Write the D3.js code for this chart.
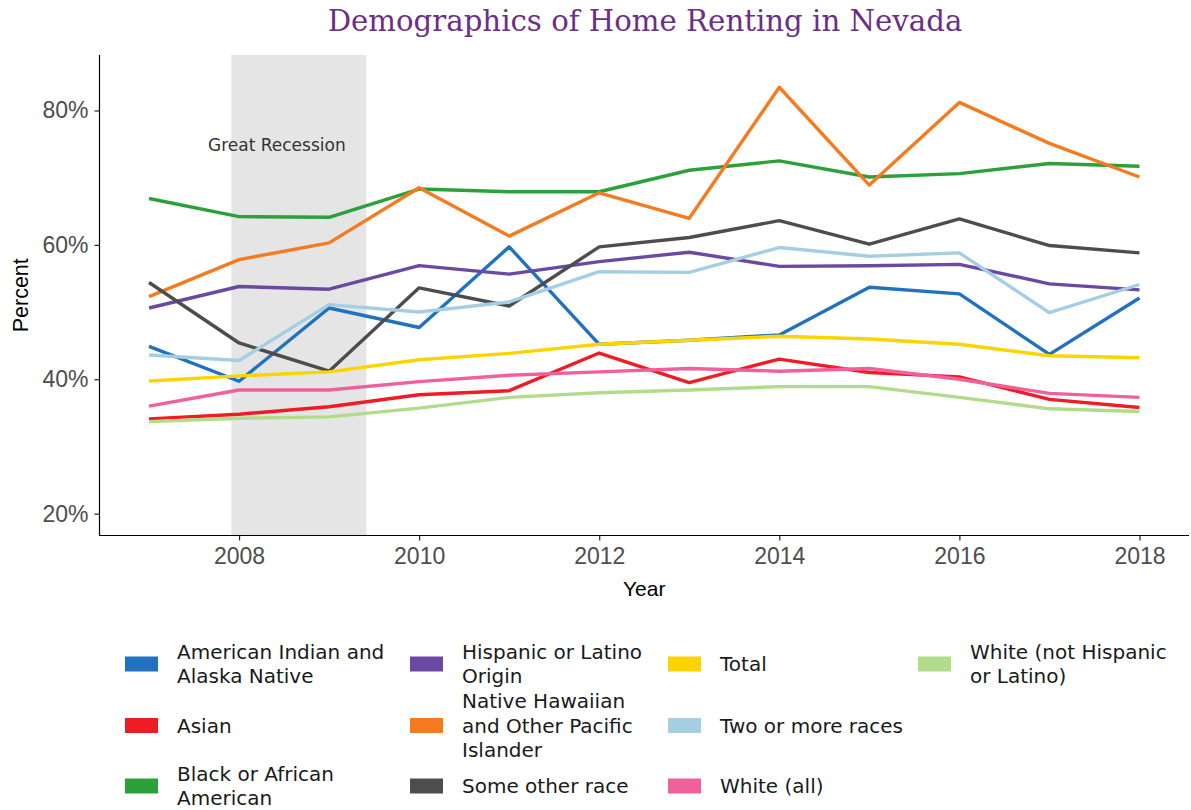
<!DOCTYPE html>
<html><head><meta charset="utf-8">
<script src="https://cdn.jsdelivr.net/npm/d3@7"></script>
<style>body{margin:0;background:#fff} svg{display:block}</style>
</head><body><svg id="chart" width="1191" height="810"></svg>
<script>
// ---------- DATA ----------
const years = [2007, 2008, 2009, 2010, 2011, 2012, 2013, 2014, 2015, 2016, 2017, 2018];
const categories = [
  "American Indian and Alaska Native", "Asian", "Black or African American",
  "Hispanic or Latino Origin", "Native Hawaiian and Other Pacific Islander", "Some other race",
  "Total", "Two or more races", "White (all)", "White (not Hispanic or Latino)"
];
const legendLabels = [
  ["American Indian and", "Alaska Native"], ["Asian"], ["Black or African", "American"],
  ["Hispanic or Latino", "Origin"], ["Native Hawaiian", "and Other Pacific", "Islander"], ["Some other race"],
  ["Total"], ["Two or more races"], ["White (all)"], ["White (not Hispanic", "or Latino)"]
];
const americanIndian   = [44.9, 39.7, 50.6, 47.7, 59.7, 45.2, 45.8, 46.6, 53.7, 52.7, 43.7, 52.1];
const asian            = [34.1, 34.8, 35.9, 37.7, 38.3, 43.9, 39.5, 43.0, 41.0, 40.35, 37.0, 35.8];
const black            = [66.9, 64.2, 64.1, 68.3, 67.9, 67.9, 71.1, 72.5, 70.1, 70.6, 72.1, 71.7];
const hispanic         = [50.6, 53.8, 53.4, 56.9, 55.65, 57.5, 58.9, 56.8, 56.9, 57.1, 54.2, 53.3];
const nativeHawaiian   = [52.3, 57.8, 60.3, 68.5, 61.3, 67.75, 63.95, 83.45, 68.9, 81.2, 75.1, 70.1];
const someOtherRace    = [54.4, 45.4, 41.2, 53.6, 50.9, 59.7, 61.1, 63.6, 60.1, 63.85, 59.9, 58.8];
const total            = [39.75, 40.5, 41.1, 42.9, 43.85, 45.2, 45.8, 46.4, 46.0, 45.2, 43.5, 43.2];
const twoOrMore        = [43.6, 42.8, 51.1, 50.0, 51.5, 56.0, 55.9, 59.6, 58.3, 58.8, 49.9, 54.1];
const whiteAll         = [36.0, 38.4, 38.4, 39.65, 40.6, 41.1, 41.6, 41.2, 41.6, 40.0, 37.9, 37.3];
const whiteNotHispanic = [33.7, 34.2, 34.4, 35.7, 37.3, 38.0, 38.4, 38.9, 38.9, 37.3, 35.6, 35.2];
const seriesValues = [americanIndian, asian, black, hispanic, nativeHawaiian, someOtherRace,
                      total, twoOrMore, whiteAll, whiteNotHispanic];
const yTickValues = [20, 40, 60, 80];
const xTickValues = [2008, 2010, 2012, 2014, 2016, 2018];
const recessionPeriod = [2007.915, 2009.414];
const recessionLabel = "Great Recession";
const recessionLabelAt = [2008.42, 74.85];
const titleText = "Demographics of Home Renting in Nevada";

// ---------- STYLE / LAYOUT ----------
const colors = ["#2171c1", "#ee1c25", "#2ca13b", "#6a49a3", "#f47b20", "#4d4d4d",
                "#fdd400", "#a6cee3", "#f0609a", "#b2dc8a"];
const plot = {left: 99.5, right: 1189, top: 55, bottom: 535.5};

const svg = d3.select("#chart");
const x = d3.scaleLinear().domain([2006.45, 2018.55]).range([plot.left, plot.right]);
const y = d3.scaleLinear().domain([16.75, 88.25]).range([plot.bottom, plot.top]);

// recession band
svg.append("rect")
  .attr("x", x(recessionPeriod[0])).attr("width", x(recessionPeriod[1]) - x(recessionPeriod[0]))
  .attr("y", plot.top).attr("height", plot.bottom - plot.top)
  .attr("fill", "#e5e5e5");

svg.append("text")
  .attr("x", x(recessionLabelAt[0])).attr("y", y(recessionLabelAt[1]))
  .attr("text-anchor", "middle").attr("dominant-baseline", "central")
  .attr("font-family", "'DejaVu Sans', sans-serif").attr("font-size", 17)
  .attr("fill", "#333").text(recessionLabel);

// lines
const line = d3.line().x((d, i) => x(years[i])).y(d => y(d));
svg.append("g").selectAll("path").data(seriesValues).join("path")
  .attr("d", d => line(d))
  .attr("fill", "none")
  .attr("stroke", (d, i) => colors[i])
  .attr("stroke-width", 3.4)
  .attr("stroke-linejoin", "round");

// axes
const yAxis = svg.append("g").attr("transform", `translate(${plot.left},0)`)
  .call(d3.axisLeft(y).tickValues(yTickValues).tickFormat(d => d + "%").tickSize(5).tickSizeOuter(0).tickPadding(6));
const xAxis = svg.append("g").attr("transform", `translate(0,${plot.bottom})`)
  .call(d3.axisBottom(x).tickValues(xTickValues).tickFormat(d3.format("d")).tickSize(5).tickSizeOuter(0).tickPadding(7));
[yAxis, xAxis].forEach(g => {
  g.select(".domain").attr("stroke", "#000").attr("stroke-width", 1.2);
  g.selectAll(".tick line").attr("stroke", "#222").attr("stroke-width", 1.2);
  g.selectAll(".tick text").attr("font-family", "'Liberation Sans', Arial, sans-serif")
    .attr("font-size", 23).attr("fill", "#4d4d4d");
});
yAxis.select(".domain").attr("d", `M0,${plot.top}V${plot.bottom + 0.6}`);
xAxis.select(".domain").attr("d", `M${plot.left - 0.6},0H${plot.right}`);

// axis titles
svg.append("text").attr("x", (plot.left + plot.right) / 2).attr("y", 596)
  .attr("text-anchor", "middle").attr("font-family", "'Liberation Sans', Arial, sans-serif")
  .attr("font-size", 21).attr("fill", "#000").text("Year");
svg.append("text").attr("transform", `translate(28,${(plot.top + plot.bottom) / 2}) rotate(-90)`)
  .attr("text-anchor", "middle").attr("font-family", "'Liberation Sans', Arial, sans-serif")
  .attr("font-size", 21.5).attr("fill", "#000").text("Percent");

// title
const title = svg.append("text").attr("x", 645).attr("y", 31)
  .attr("text-anchor", "middle").attr("font-family", "'DejaVu Serif', serif")
  .attr("font-size", 28).attr("fill", "#6b2f86").text(titleText);
const tw = title.node().getComputedTextLength();
title.attr("font-size", 28 * 635 / tw);

// legend
const colKeyX = [125, 410, 668, 918];
const rowY = [664, 725.5, 786];
const lineH = 24.5;
const leg = svg.append("g").attr("font-family", "'DejaVu Sans', sans-serif").attr("font-size", 20).attr("fill", "#1a1a1a");
categories.forEach((c, i) => {
  const col = Math.floor(i / 3), row = i % 3;
  const cx = colKeyX[col], cy = rowY[row];
  leg.append("rect").attr("x", cx).attr("y", cy - 7.5).attr("width", 33).attr("height", 15).attr("fill", colors[i]);
  const lines = legendLabels[i];
  const t = leg.append("text").attr("x", cx + 52).attr("dominant-baseline", "central");
  lines.forEach((l, j) => {
    t.append("tspan").attr("x", cx + 52).attr("y", cy + (j - (lines.length - 1) / 2) * lineH).text(l);
  });
});
</script></body></html>
